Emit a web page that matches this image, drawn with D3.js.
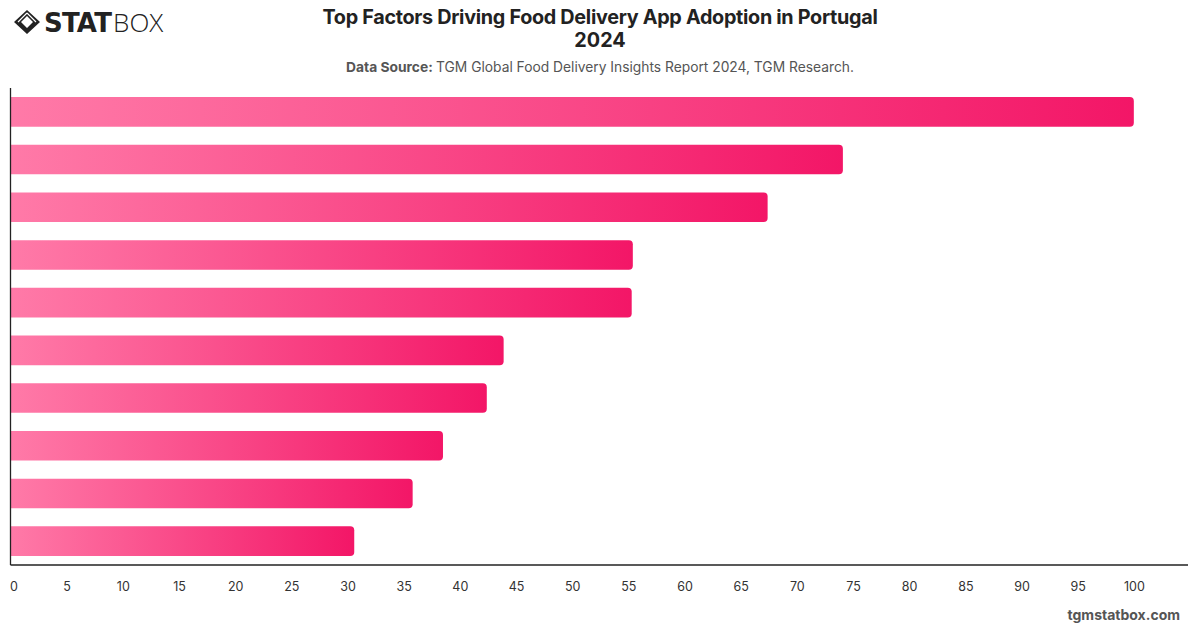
<!DOCTYPE html>
<html><head><meta charset="utf-8">
<script src="https://cdn.jsdelivr.net/npm/d3@7"></script>
<style>
body{margin:0;background:#fff;}
svg{display:block;font-family:Inter,"Liberation Sans",sans-serif;}
</style></head>
<body><svg id="c" width="1200" height="628"></svg>
<script>
const categories = ["Factor 1","Factor 2","Factor 3","Factor 4","Factor 5","Factor 6","Factor 7","Factor 8","Factor 9","Factor 10"];
const values = [100, 74.1, 67.4, 55.4, 55.3, 43.9, 42.4, 38.5, 35.8, 30.6];
const xTicks = [0,5,10,15,20,25,30,35,40,45,50,55,60,65,70,75,80,85,90,95,100];

const svg = d3.select("#c");
const m = {l:10.5, r:1190, t:88, b:565};
const x = d3.scaleLinear().domain([0,105]).range([m.l, m.r]);
const y = d3.scaleBand().domain(categories).range([m.t, m.b]).paddingInner(0.38).paddingOuter(0.19);

const defs = svg.append("defs");
const g = defs.append("linearGradient").attr("id","bg").attr("x1","0").attr("x2","1").attr("y1","0").attr("y2","0");
g.append("stop").attr("offset","0").attr("stop-color","#ff7aa8");
g.append("stop").attr("offset","1").attr("stop-color","#f31667");

svg.append("g").selectAll("path").data(values).join("path")
  .attr("fill","url(#bg)")
  .attr("d",(d,i)=>{
    const x0=x(0), x1=x(d), y0=y(categories[i]), h=y.bandwidth(), r=4;
    return `M${x0},${y0}H${x1-r}Q${x1},${y0} ${x1},${y0+r}V${y0+h-r}Q${x1},${y0+h} ${x1-r},${y0+h}H${x0}Z`;
  });

const xa = svg.append("g").attr("transform",`translate(0,${m.b})`)
  .call(d3.axisBottom(x).tickValues(xTicks).tickSize(0).tickPadding(17));
xa.select(".domain").attr("stroke","#222").attr("stroke-width",1.3).attr("d",`M${m.l},0H1188`);
xa.selectAll("text").attr("font-size",12.5).attr("fill","#333").attr("font-family","Inter,sans-serif");
xa.selectAll("text").filter(d=>d===0).attr("dx",3);

svg.append("line").attr("x1",m.l).attr("x2",m.l).attr("y1",m.t).attr("y2",m.b)
  .attr("stroke","#222").attr("stroke-width",1.3);

svg.append("text").attr("x",600).attr("y",24).attr("text-anchor","middle")
  .attr("font-size",19.8).attr("font-weight",700).attr("fill","#222").attr("letter-spacing",-0.3)
  .text("Top Factors Driving Food Delivery App Adoption in Portugal");
svg.append("text").attr("x",600).attr("y",47).attr("text-anchor","middle")
  .attr("font-size",19.8).attr("font-weight",700).attr("fill","#222")
  .text("2024");
const st = svg.append("text").attr("x",600).attr("y",72).attr("text-anchor","middle")
  .attr("font-size",13.8).attr("fill","#555");
st.append("tspan").attr("font-weight",700).text("Data Source: ");
st.append("tspan").text("TGM Global Food Delivery Insights Report 2024, TGM Research.");

svg.append("text").attr("x",1180).attr("y",620).attr("text-anchor","end")
  .attr("font-size",14).attr("font-weight",700).attr("fill","#555").text("tgmstatbox.com");

const lg = svg.append("g").attr("transform","translate(14,10)");
lg.append("path").attr("d","M13,0 L26,12 L13,24 L0,12 Z M13,6 L19,12 L13,18 L7,12 Z").attr("fill","#222").attr("fill-rule","evenodd");
lg.append("path").attr("d","M13,3 L4,12 M13,3 L22,12").attr("stroke","#fff").attr("stroke-width",1.2);
const stat = lg.append("text").attr("x",30).attr("y",22).attr("font-size",26).attr("font-weight",900)
  .attr("fill","#222").attr("font-family","'DejaVu Sans',sans-serif").attr("letter-spacing",-0.8).text("STAT");
const w = stat.node().getComputedTextLength();
lg.append("text").attr("x",30 + w + 2).attr("y",22).attr("font-size",26).attr("font-weight",300)
  .attr("fill","#222").attr("font-family","'Open Sans',sans-serif").text("BOX");
</script></body></html>
